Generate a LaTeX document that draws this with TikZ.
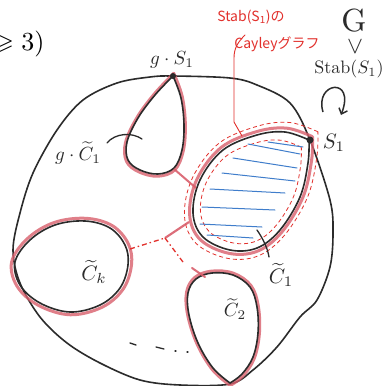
\documentclass[tikz,border=0pt]{standalone}
\usepackage{amssymb}
\usepackage{fontspec}
\newfontfamily\jp{Noto Sans CJK JP}
\usetikzlibrary{arrows.meta}
\definecolor{ink}{HTML}{2B2B2B}
\definecolor{pinkred}{HTML}{D95F6C}
\definecolor{redpen}{HTML}{E2302C}
\definecolor{bluepen}{HTML}{3F7DCB}
\begin{document}
\begin{tikzpicture}[x=1pt,y=-1pt,
  blk/.style={draw=ink,line width=1.6pt,line cap=round,line join=round},
  band/.style={draw=pinkred,line width=3pt,opacity=0.8,line cap=round,line join=round},
  dashred/.style={draw=redpen,line width=0.8pt,dash pattern=on 4pt off 3pt},
  dashdot/.style={draw=redpen,line width=1.3pt,dash pattern=on 5pt off 3pt on 1.5pt off 3pt},
  redline/.style={draw=redpen,line width=0.9pt,line cap=round},
  hatch/.style={draw=bluepen,line width=1pt,line cap=round},
  dotnode/.style={circle,fill=ink,inner sep=0pt,minimum size=6pt},
  lbl/.style={inner sep=0pt,text=ink,scale=1.9},
  redtext/.style={inner sep=0pt,text=redpen,scale=1.4,font=\jp}]
\useasboundingbox (0,0) rectangle (383,386);
\fill[white] (0,0) rectangle (383,386);

% top-left typeset fragment
\node[inner sep=0pt,anchor=base east,scale=2.6] (frag) at (45,50) {$\geqslant 3)$};

% big outer curve
\draw[blk] plot[smooth cycle,tension=0.55] coordinates {(173,76) (230,78) (257,85) (290,103) (310,140) (330,200) (333,233) (330,267) (317,300) (300,317) (277,347) (253,370) (230,384) (180,385) (140,380) (100,363) (67,343) (40,317) (20,283) (13,250) (20,213) (33,173) (57,130) (83,100) (117,83) (150,77)};

% ---- C1 loop (shaded) ----
\foreach \s/\st in {1.06/band,1.15/dashred,0.87/dashred}{
  \draw[\st,scale around={\s:(250,195)}] plot[smooth,tension=0.6] coordinates {(309,140) (285,132) (257,135) (223,150) (200,180) (193,213) (203,237) (230,250) (257,248) (280,230) (300,197) (308,163) (309,140)};
}
\draw[hatch] (268,142) -- (303,147);
\draw[hatch] (248,144) -- (300,154);
\draw[hatch] (233,158) -- (297,168);
\draw[hatch] (222,173) -- (295,181);
\draw[hatch] (210,189) -- (285,193);
\draw[hatch] (202,207) -- (275,210);
\draw[hatch] (200,224) -- (262,227);
\draw[hatch] (207,235) -- (253,238);
\draw[blk] plot[smooth,tension=0.6] coordinates {(309,140) (285,132) (257,135) (223,150) (200,180) (193,213) (203,237) (230,250) (257,248) (280,230) (300,197) (308,163) (309,140)};

% ---- g.C1 loop ----
\draw[band,scale around={1.05:(157,130)}] plot[smooth,tension=0.6] coordinates {(173,76) (155,95) (138,118) (127,142) (128,160) (140,170) (158,174) (174,168) (182,150) (184,125) (181,98) (173,76)};
\draw[blk] plot[smooth,tension=0.6] coordinates {(173,76) (155,95) (138,118) (127,142) (128,160) (140,170) (158,174) (174,168) (182,150) (184,125) (181,98) (173,76)};

% ---- Ck loop ----
\draw[band,scale around={1.06:(70,266)}] plot[smooth cycle,tension=0.6] coordinates {(15,262) (30,240) (55,225) (85,221) (110,228) (125,245) (128,265) (120,288) (100,305) (70,312) (40,303) (20,285)};
\draw[blk] plot[smooth cycle,tension=0.6] coordinates {(15,262) (30,240) (55,225) (85,221) (110,228) (125,245) (128,265) (120,288) (100,305) (70,312) (40,303) (20,285)};

% ---- C2 loop ----
\draw[band,scale around={1.04:(223,320)}] plot[smooth,tension=0.6] coordinates {(230,383) (213,368) (198,343) (189,315) (188,293) (196,279) (212,273) (233,275) (250,287) (257,307) (258,333) (253,357) (242,374) (230,383)};
\draw[blk] plot[smooth,tension=0.6] coordinates {(230,383) (213,368) (198,343) (189,315) (188,293) (196,279) (212,273) (233,275) (250,287) (257,307) (258,333) (253,357) (242,374) (230,383)};

% ---- red connectors (Cayley graph edges) ----
\coordinate (gcend) at (174,169);
\coordinate (c1left) at (196,188);
\coordinate (ckright) at (130,249);
\coordinate (jn) at (165,238);
\coordinate (c1low) at (189,222);
\coordinate (dotend) at (183,262);
\coordinate (c2a) at (192,268);
\coordinate (c2b) at (205,277);
\draw[draw=pinkred,line width=2pt,opacity=0.9] (gcend) -- (c1left);
\draw[dashdot] (ckright) -- (jn);
\draw[draw=pinkred,line width=2.2pt,opacity=0.9] (jn) -- (c1low);
\draw[dashdot] (jn) -- (dotend);
\draw[draw=pinkred,line width=2pt,opacity=0.9,line cap=round] (c2a) -- (c2b);

% dotted black continuation
\draw[blk,line width=1.3pt] (130,343) -- (136,345);
\draw[blk,line width=1.3pt] (156,347) -- (164,349);
\draw[blk,line width=1.3pt] (175,351) -- (176,351);
\draw[blk,line width=1.3pt] (187,352) -- (188,352);

% points
\node[dotnode] (gs1) at (173,76) {};
\node[dotnode,minimum size=7pt] (s1) at (310,140) {};

% labels
\node[lbl] (gs1l) at (172,60) {$g\cdot S_1$};
\node[lbl,scale=1.1] (s1l) at (334,143) {$S_1$};
\node[lbl] (gc1l) at (78,153) {$g\cdot\widetilde{C}_1$};
\draw[blk,line width=1.3pt] (107,143) .. controls (115,133) and (132,132) .. (142,139);
\node[lbl,scale=1.1] (ckl) at (94,272) {$\widetilde{C}_k$};
\node[lbl] (c2l) at (235,309) {$\widetilde{C}_2$};
\node[lbl,scale=1.1] (c1l) at (281,275) {$\widetilde{C}_1$};
\draw[blk,line width=1.3pt] (257,230) .. controls (264,240) and (268,250) .. (269,257);

% top right: G acts on Stab(S1)
\node[inner sep=0pt,text=ink,scale=3.2] (G) at (354,21) {G};
\node[inner sep=0pt,text=ink,scale=2.4] (vee) at (355,47) {$\vee$};
\node[inner sep=0pt,text=ink,scale=1.8] (stab) at (349,69) {Stab($S_1$)};
\draw[ink,line width=1.5pt,-{Straight Barb[length=5pt,width=9pt]}] (323,112) .. controls (314,82) and (356,76) .. (341,115);

% red annotation
\node[redtext] (rt1) at (251,17) {Stab(S\textsubscript{1})の};
\node[redtext] (rt2) at (277,44) {Cayleyグラフ};
\draw[redline] (245,35) .. controls (238,42) and (234,48) .. (234,58) -- (234,122) -- (242,136);
\end{tikzpicture}
\end{document}
